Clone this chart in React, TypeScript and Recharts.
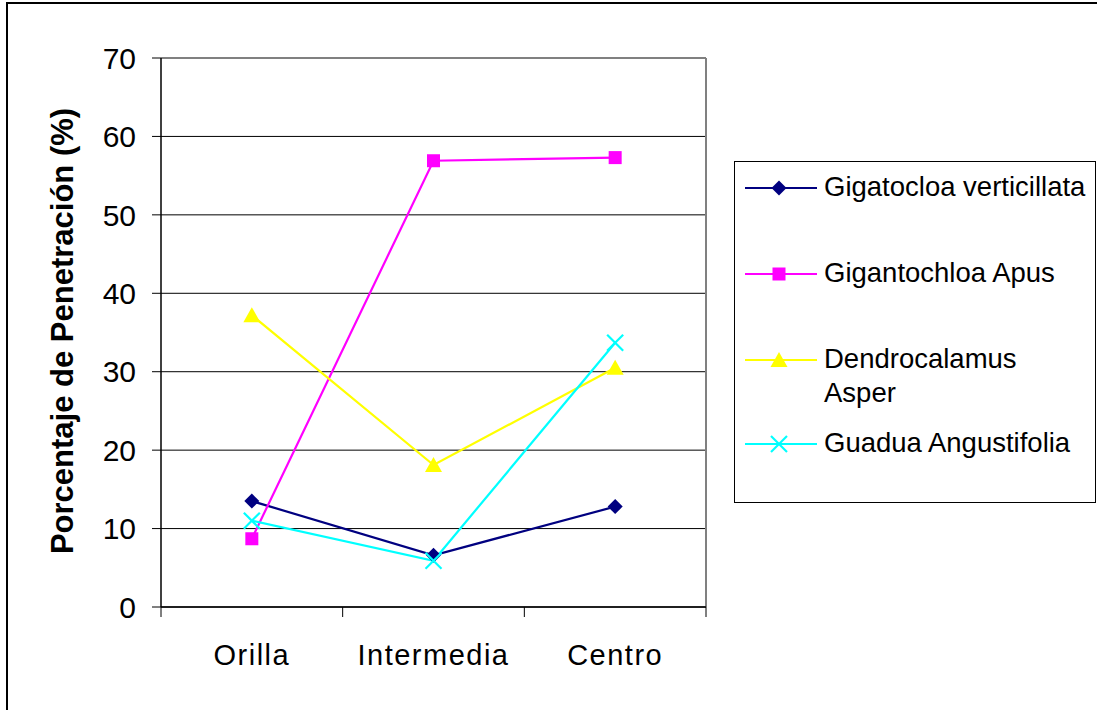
import { CartesianGrid, Line, LineChart, XAxis, YAxis, usePlotArea } from "recharts";

const categories = ["Orilla", "Intermedia", "Centro"];
const verticillata = [13.5, 6.6, 12.8];
const apus = [8.7, 56.9, 57.3];
const asper = [37.2, 18.1, 30.5];
const angustifolia = [11.0, 5.9, 33.7];
const yTicks = [0, 10, 20, 30, 40, 50, 60, 70];

const FONT = '"Liberation Sans", Arial, sans-serif';

type MarkerKind = "diamond" | "square" | "triangle" | "cross";

const series: { key: string; label: string[]; color: string; marker: MarkerKind; values: number[] }[] = [
  { key: "verticillata", label: ["Gigatocloa verticillata"], color: "#000080", marker: "diamond", values: verticillata },
  { key: "apus", label: ["Gigantochloa Apus"], color: "#FF00FF", marker: "square", values: apus },
  { key: "asper", label: ["Dendrocalamus", "Asper"], color: "#FFFF00", marker: "triangle", values: asper },
  { key: "angustifolia", label: ["Guadua Angustifolia"], color: "#00FFFF", marker: "cross", values: angustifolia }
];

// one row per category, placed at the middle of its band on a 0..3 axis
const rows = categories.map((name, i) => {
  const row: Record<string, number | string> = { name, pos: i + 0.5 };
  series.forEach((s) => {
    row[s.key] = s.values[i];
  });
  return row;
});

function Marker({ kind, cx, cy, color }: { kind: MarkerKind; cx: number; cy: number; color: string }) {
  if (kind === "diamond") {
    const r = 7.5;
    return <polygon points={`${cx},${cy - r} ${cx + r},${cy} ${cx},${cy + r} ${cx - r},${cy}`} fill={color} />;
  }
  if (kind === "square") {
    return <rect x={cx - 6.5} y={cy - 6.5} width={13} height={13} fill={color} />;
  }
  if (kind === "triangle") {
    return <polygon points={`${cx},${cy - 8} ${cx + 8.5},${cy + 7} ${cx - 8.5},${cy + 7}`} fill={color} />;
  }
  const r = 8;
  return (
    <g stroke={color} strokeWidth={2.2}>
      <line x1={cx - r} y1={cy - r} x2={cx + r} y2={cy + r} />
      <line x1={cx - r} y1={cy + r} x2={cx + r} y2={cy - r} />
    </g>
  );
}

function PlotFrame() {
  const area = usePlotArea();
  if (!area) return null;
  const { x, y, width, height } = area;
  return (
    <g>
      <line x1={x} y1={y} x2={x + width} y2={y} stroke="#808080" strokeWidth={2} />
      <line x1={x + width} y1={y} x2={x + width} y2={y + height} stroke="#808080" strokeWidth={2} />
    </g>
  );
}

function SeriesLegend() {
  const rowTops = [0, 86, 172, 256];
  return (
    <div
      style={{
        position: "absolute",
        left: 734,
        top: 161,
        width: 362,
        height: 342,
        border: "1px solid #000",
        boxSizing: "border-box",
        fontFamily: FONT,
        fontSize: 27.5,
        color: "#000"
      }}
    >
      {series.map((s, i) => (
        <div key={s.key} style={{ position: "absolute", left: 0, top: rowTops[i], width: "100%" }}>
          <svg width={90} height={52} style={{ position: "absolute", left: 8, top: 0 }}>
            <line x1={2} y1={26} x2={74} y2={26} stroke={s.color} strokeWidth={2} />
            <Marker kind={s.marker} cx={36} cy={26} color={s.color} />
          </svg>
          {s.label.map((line, j) => (
            <div
              key={line}
              style={{ position: "absolute", left: 89, top: 8 + j * 34, lineHeight: "34px", whiteSpace: "nowrap" }}
            >
              {line}
            </div>
          ))}
        </div>
      ))}
    </div>
  );
}

export default function App() {
  return (
    <div
      style={{
        position: "absolute",
        left: 0,
        top: 0,
        width: 1097,
        height: 710,
        overflow: "hidden",
        background: "#fff"
      }}
    >
      <div
        style={{
          position: "absolute",
          left: 6,
          top: 2,
          width: 1200,
          height: 800,
          borderTop: "2px solid #000",
          borderLeft: "2px solid #000"
        }}
      />
      <div style={{ position: "absolute", left: 0, top: 0 }}>
        <LineChart
          width={1097}
          height={710}
          data={rows}
          margin={{ top: 58, right: 391, left: 61, bottom: 0 }}
          style={{ fontFamily: FONT }}
        >
          <CartesianGrid horizontal vertical={false} stroke="#000" strokeWidth={1} />
          <XAxis
            xAxisId="bounds"
            dataKey="pos"
            type="number"
            domain={[0, 3]}
            ticks={[0, 1, 2, 3]}
            interval={0}
            tickFormatter={() => ""}
            tickSize={10}
            height={12}
            axisLine={{ stroke: "#000", strokeWidth: 1.5 }}
            tickLine={{ stroke: "#000" }}
          />
          <XAxis
            xAxisId="names"
            dataKey="pos"
            type="number"
            domain={[0, 3]}
            ticks={[0.5, 1.5, 2.5]}
            interval={0}
            tickFormatter={(v: number) => categories[Math.floor(v)]}
            axisLine={false}
            tickLine={false}
            tickSize={0}
            tickMargin={25}
            height={91}
            tick={{ fill: "#000", fontSize: 29, fontFamily: FONT, letterSpacing: 1.5 }}
          />
          <YAxis
            type="number"
            domain={[0, 70]}
            ticks={yTicks}
            interval={0}
            width={100}
            tickSize={9}
            tickMargin={16}
            axisLine={{ stroke: "#000", strokeWidth: 1.5 }}
            tickLine={{ stroke: "#000" }}
            tick={{ fill: "#000", fontSize: 30, fontFamily: FONT }}
            label={{
              content: () => (
                <text
                  x={73}
                  y={331}
                  transform="rotate(-90 73 331)"
                  textAnchor="middle"
                  fontSize={31}
                  fontWeight="bold"
                  fontFamily={FONT}
                  fill="#000"
                >
                  Porcentaje de Penetración (%)
                </text>
              )
            }}
          />
          <PlotFrame />
          {series.map((s) => (
            <Line
              key={s.key}
              xAxisId="bounds"
              type="linear"
              dataKey={s.key}
              name={s.label.join(" ")}
              stroke={s.color}
              strokeWidth={2.2}
              isAnimationActive={false}
              dot={(p: { cx?: number; cy?: number; index?: number }) => (
                <Marker key={`${s.key}-${p.index}`} kind={s.marker} cx={p.cx ?? 0} cy={p.cy ?? 0} color={s.color} />
              )}
              activeDot={false}
            />
          ))}
        </LineChart>
      </div>
      <SeriesLegend />
    </div>
  );
}
